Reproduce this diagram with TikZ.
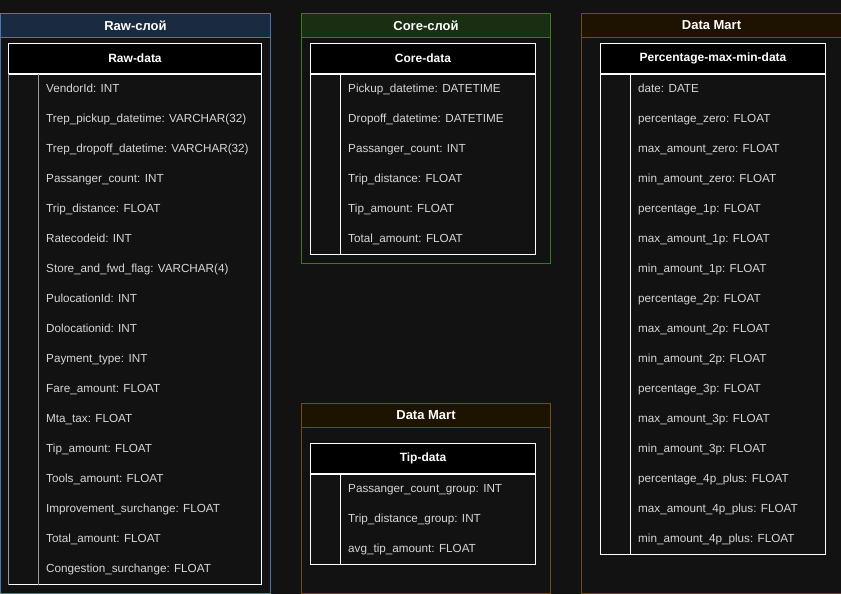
\documentclass[tikz,border=0pt]{standalone}
\usepackage{fontspec}
\setmainfont{Liberation Sans}
\usetikzlibrary{positioning}
\definecolor{cBg}{HTML}{121212}
\definecolor{cText}{HTML}{D6D6D6}
\definecolor{cRaw}{HTML}{4A76B0}
\definecolor{cRawHead}{HTML}{1A2A40}
\definecolor{cCore}{HTML}{3A7A1C}
\definecolor{cCoreHead}{HTML}{1A2E12}
\definecolor{cMart}{HTML}{6E4E10}
\definecolor{cMartHead}{HTML}{1E1200}
\definecolor{cSep}{HTML}{9A9A9A}

\begin{document}
\begin{tikzpicture}[x=1pt,y=-1pt,
    layer/.style={draw,line width=1pt,fill=cBg,anchor=north west,inner sep=0pt},
    layerhead/.style={draw,line width=1pt,anchor=north west,minimum height=24pt,inner sep=0pt,
      text=white,font=\fontsize{13}{15}\selectfont\bfseries},
    tabhead/.style={draw=white,line width=1pt,fill=black,anchor=north west,minimum height=30pt,
      inner sep=0pt,text=white,font=\fontsize{12}{14}\selectfont\bfseries},
    tabbody/.style={draw=white,line width=1pt,fill=cBg,anchor=north west,inner sep=0pt},
    field/.style={anchor=west,inner sep=0pt,text height=8.5pt,text depth=3pt,text=cText,
      font=\fontsize{11.7}{14}\selectfont}]
  \fill[cBg] (0,0) rectangle (841,594);
  \useasboundingbox (0,0) rectangle (841,594);

  % Raw layer
  \node[layer,draw=cRaw,minimum width=270pt,minimum height=580pt] (rawbox) at (0,13) {};
  \node[layerhead,draw=cRaw,fill=cRawHead,minimum width=270pt] (rawhead) at (rawbox.north west) {Raw-слой};
  \node[tabhead,minimum width=253pt] (rawt) at (8,43) {Raw-data};
  \node[tabbody,minimum width=253pt,minimum height=510pt,below=0pt of rawt] (rawb) {};
  \draw[cSep,line width=1pt] (rawb.north west) -- (rawb.south west);
  \draw[cSep,line width=1pt] ([xshift=30pt]rawb.north west) -- ([xshift=30pt]rawb.south west);
  \foreach \f [count=\i] in {VendorId: INT, Trep\_pickup\_datetime: VARCHAR(32),
      Trep\_dropoff\_datetime: VARCHAR(32), Passanger\_count: INT, Trip\_distance: FLOAT,
      Ratecodeid: INT, Store\_and\_fwd\_flag: VARCHAR(4), PulocationId: INT, Dolocationid: INT,
      Payment\_type: INT, Fare\_amount: FLOAT, Mta\_tax: FLOAT, Tip\_amount: FLOAT,
      Tools\_amount: FLOAT, Improvement\_surchange: FLOAT, Total\_amount: FLOAT,
      Congestion\_surchange: FLOAT}
    \node[field] (raw\i) at ([xshift=38pt,yshift={-(\i-0.5)*30pt-1pt}]rawb.north west) {\f};

  % Core layer
  \node[layer,draw=cCore,minimum width=249pt,minimum height=250pt] (corebox) at (301,13) {};
  \node[layerhead,draw=cCore,fill=cCoreHead,minimum width=249pt] (corehead) at (corebox.north west) {Core-слой};
  \node[tabhead,minimum width=225pt] (coret) at (310,43) {Core-data};
  \node[tabbody,minimum width=225pt,minimum height=180pt,below=0pt of coret] (coreb) {};
  \draw[white,line width=1pt] ([xshift=30pt]coreb.north west) -- ([xshift=30pt]coreb.south west);
  \foreach \f [count=\i] in {Pickup\_datetime: DATETIME, Dropoff\_datetime: DATETIME,
      Passanger\_count: INT, Trip\_distance: FLOAT, Tip\_amount: FLOAT, Total\_amount: FLOAT}
    \node[field] (core\i) at ([xshift=38pt,yshift={-(\i-0.5)*30pt-1pt}]coreb.north west) {\f};

  % Data Mart (tips)
  \node[layer,draw=cMart,minimum width=249pt,minimum height=190pt] (tipbox) at (301,403) {};
  \node[layerhead,draw=cMart,fill=cMartHead,minimum width=249pt] (tiphead) at (tipbox.north west) {Data Mart};
  \node[tabhead,minimum width=225pt] (tipt) at (310,443) {Tip-data};
  \node[tabbody,minimum width=225pt,minimum height=90pt,below=0pt of tipt] (tipb) {};
  \draw[white,line width=1pt] ([xshift=30pt]tipb.north west) -- ([xshift=30pt]tipb.south west);
  \foreach \f [count=\i] in {Passanger\_count\_group: INT, Trip\_distance\_group: INT,
      avg\_tip\_amount: FLOAT}
    \node[field] (tip\i) at ([xshift=38pt,yshift={-(\i-0.5)*30pt-1pt}]tipb.north west) {\f};

  % Data Mart (percentages)
  \node[layer,draw=cMart,minimum width=260pt,minimum height=580pt] (pctbox) at (581,13) {};
  \node[layerhead,draw=cMart,fill=cMartHead,minimum width=260pt] (pcthead) at (pctbox.north west) {Data Mart};
  \node[tabhead,minimum width=225pt] (pctt) at (600,43) {Percentage-max-min-data};
  \node[tabbody,minimum width=225pt,minimum height=480pt,below=0pt of pctt] (pctb) {};
  \draw[white,line width=1pt] ([xshift=30pt]pctb.north west) -- ([xshift=30pt]pctb.south west);
  \foreach \f [count=\i] in {date: DATE, percentage\_zero: FLOAT, max\_amount\_zero: FLOAT,
      min\_amount\_zero: FLOAT, percentage\_1p: FLOAT, max\_amount\_1p: FLOAT,
      min\_amount\_1p: FLOAT, percentage\_2p: FLOAT, max\_amount\_2p: FLOAT,
      min\_amount\_2p: FLOAT, percentage\_3p: FLOAT, max\_amount\_3p: FLOAT,
      min\_amount\_3p: FLOAT, percentage\_4p\_plus: FLOAT, max\_amount\_4p\_plus: FLOAT,
      min\_amount\_4p\_plus: FLOAT}
    \node[field] (pct\i) at ([xshift=38pt,yshift={-(\i-0.5)*30pt-1pt}]pctb.north west) {\f};
\end{tikzpicture}
\end{document}
